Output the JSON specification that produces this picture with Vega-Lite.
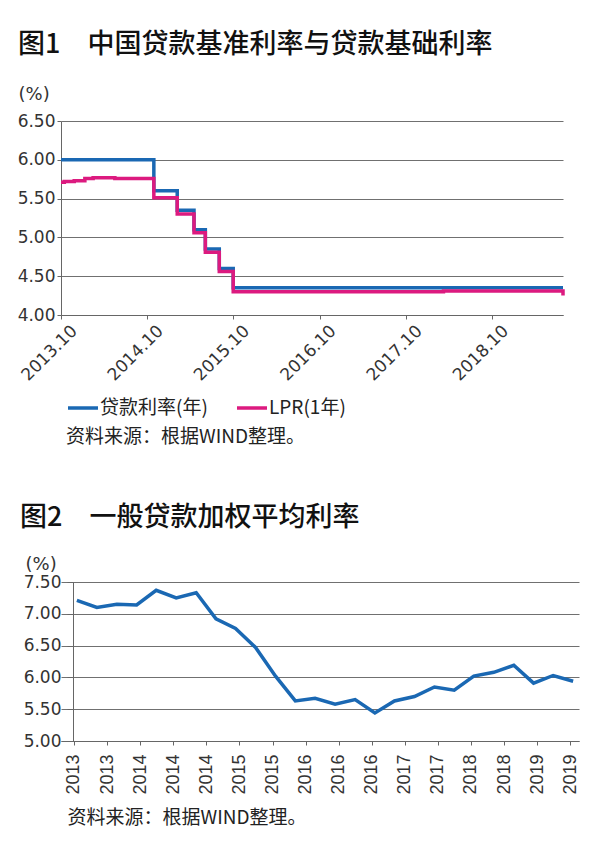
{
  "$schema": "https://vega.github.io/schema/vega-lite/v6.json",
  "background": "white",
  "padding": {"left": 17, "top": 31, "right": 0, "bottom": 0},
  "spacing": 120,
  "config": {
    "view": {"stroke": null},
    "axis": {
      "labelFont": "DejaVu Sans",
      "labelFontSize": 17,
      "labelColor": "#333333",
      "domainColor": "#666666",
      "tickColor": "#666666",
      "gridColor": "#707070",
      "gridWidth": 1,
      "titleFont": "DejaVu Sans",
      "titleFontWeight": "normal",
      "titleColor": "#333333"
    }
  },
  "vconcat": [
    {
      "width": 502,
      "height": 194,
      "title": {
        "text": "图1　中国贷款基准利率与贷款基础利率",
        "anchor": "start",
        "frame": "group",
        "dx": -43,
        "fontSize": 27,
        "font": "Noto Sans CJK SC",
        "fontWeight": 500,
        "color": "#111111",
        "offset": 26
      },
      "data": {
        "values": [
          {"date": "2013-10-25", "series": "贷款利率(年)", "rate": 6.00},
          {"date": "2014-11-22", "series": "贷款利率(年)", "rate": 5.60},
          {"date": "2015-03-01", "series": "贷款利率(年)", "rate": 5.35},
          {"date": "2015-05-11", "series": "贷款利率(年)", "rate": 5.10},
          {"date": "2015-06-28", "series": "贷款利率(年)", "rate": 4.85},
          {"date": "2015-08-26", "series": "贷款利率(年)", "rate": 4.60},
          {"date": "2015-10-24", "series": "贷款利率(年)", "rate": 4.35},
          {"date": "2019-08-20", "series": "贷款利率(年)", "rate": 4.35},
          {"date": "2013-10-25", "series": "LPR(1年)", "rate": 5.71},
          {"date": "2013-11-08", "series": "LPR(1年)", "rate": 5.72},
          {"date": "2013-12-20", "series": "LPR(1年)", "rate": 5.73},
          {"date": "2014-02-03", "series": "LPR(1年)", "rate": 5.76},
          {"date": "2014-03-10", "series": "LPR(1年)", "rate": 5.77},
          {"date": "2014-06-10", "series": "LPR(1年)", "rate": 5.76},
          {"date": "2014-11-22", "series": "LPR(1年)", "rate": 5.51},
          {"date": "2015-03-01", "series": "LPR(1年)", "rate": 5.30},
          {"date": "2015-05-11", "series": "LPR(1年)", "rate": 5.06},
          {"date": "2015-06-28", "series": "LPR(1年)", "rate": 4.81},
          {"date": "2015-08-26", "series": "LPR(1年)", "rate": 4.56},
          {"date": "2015-10-24", "series": "LPR(1年)", "rate": 4.30},
          {"date": "2018-04-01", "series": "LPR(1年)", "rate": 4.31},
          {"date": "2019-08-20", "series": "LPR(1年)", "rate": 4.25}
        ]
      },
      "mark": {"type": "line", "interpolate": "step-after", "strokeWidth": 3.5},
      "encoding": {
        "x": {
          "field": "date",
          "type": "temporal",
          "scale": {
            "type": "utc",
            "domain": [
              {"year": 2013, "month": 10, "date": 25, "utc": true},
              {"year": 2019, "month": 8, "date": 20, "utc": true}
            ]
          },
          "axis": {
            "values": [
              {"year": 2013, "month": 10, "date": 25, "utc": true},
              {"year": 2014, "month": 10, "date": 25, "utc": true},
              {"year": 2015, "month": 10, "date": 25, "utc": true},
              {"year": 2016, "month": 10, "date": 25, "utc": true},
              {"year": 2017, "month": 10, "date": 25, "utc": true},
              {"year": 2018, "month": 10, "date": 25, "utc": true}
            ],
            "format": "%Y.%m",
            "labelAngle": -45,
            "labelAlign": "right",
            "labelBaseline": "middle",
            "labelOffset": 13,
            "labelPadding": 9,
            "grid": false,
            "tickSize": 4,
            "title": null
          }
        },
        "y": {
          "field": "rate",
          "type": "quantitative",
          "scale": {"domain": [4, 6.5]},
          "axis": {
            "values": [4, 4.5, 5, 5.5, 6, 6.5],
            "format": ".2f",
            "tickSize": 4,
            "labelPadding": 2,
            "title": "(%)",
            "titleAngle": 0,
            "titleAlign": "left",
            "titleBaseline": "top",
            "titleX": -43,
            "titleY": -36,
            "titleFontSize": 18
          }
        },
        "color": {
          "field": "series",
          "type": "nominal",
          "scale": {"domain": ["贷款利率(年)", "LPR(1年)"], "range": ["#1a68b3", "#dc1a7f"]},
          "legend": {
            "orient": "none",
            "legendX": 5,
            "legendY": 270,
            "direction": "horizontal",
            "symbolType": "stroke",
            "symbolSize": 900,
            "symbolStrokeWidth": 3.5,
            "labelFont": "Noto Sans CJK SC",
            "labelFontSize": 19,
            "labelColor": "#222222",
            "labelOffset": 0,
            "columnPadding": 22,
            "title": "资料来源：根据WIND整理。",
            "titleOrient": "bottom",
            "titleAnchor": "start",
            "titleFont": "Noto Sans CJK SC",
            "titleFontSize": 19,
            "titleFontWeight": "normal",
            "titleColor": "#222222",
            "titlePadding": 10,
            "titleLimit": 400
          }
        }
      }
    },
    {
      "width": 518,
      "height": 159,
      "title": {
        "text": "图2　一般贷款加权平均利率",
        "anchor": "start",
        "frame": "group",
        "dx": -41,
        "fontSize": 27,
        "font": "Noto Sans CJK SC",
        "fontWeight": 500,
        "color": "#111111",
        "offset": 23
      },
      "data": {
        "values": [
          {"date": "2013-03-15", "rate": 7.21},
          {"date": "2013-06-15", "rate": 7.10},
          {"date": "2013-09-15", "rate": 7.15},
          {"date": "2013-12-15", "rate": 7.14},
          {"date": "2014-03-15", "rate": 7.37},
          {"date": "2014-06-15", "rate": 7.25},
          {"date": "2014-09-15", "rate": 7.33},
          {"date": "2014-12-15", "rate": 6.92},
          {"date": "2015-03-15", "rate": 6.77},
          {"date": "2015-06-15", "rate": 6.47},
          {"date": "2015-09-15", "rate": 6.02},
          {"date": "2015-12-15", "rate": 5.63},
          {"date": "2016-03-15", "rate": 5.67},
          {"date": "2016-06-15", "rate": 5.58},
          {"date": "2016-09-15", "rate": 5.65},
          {"date": "2016-12-15", "rate": 5.44},
          {"date": "2017-03-15", "rate": 5.63},
          {"date": "2017-06-15", "rate": 5.70},
          {"date": "2017-09-15", "rate": 5.85},
          {"date": "2017-12-15", "rate": 5.80},
          {"date": "2018-03-15", "rate": 6.02},
          {"date": "2018-06-15", "rate": 6.08},
          {"date": "2018-09-15", "rate": 6.19},
          {"date": "2018-12-15", "rate": 5.91},
          {"date": "2019-03-15", "rate": 6.03},
          {"date": "2019-06-15", "rate": 5.94}
        ]
      },
      "mark": {"type": "line", "strokeWidth": 3.5, "color": "#1a68b3"},
      "encoding": {
        "x": {
          "field": "date",
          "type": "temporal",
          "scale": {
            "type": "utc",
            "domain": [
              {"year": 2013, "month": 1, "date": 1, "utc": true},
              {"year": 2019, "month": 7, "date": 12, "utc": true}
            ]
          },
          "axis": {
            "values": [
              {"year": 2013, "month": 3, "date": 1, "utc": true},
              {"year": 2013, "month": 8, "date": 1, "utc": true},
              {"year": 2014, "month": 1, "date": 1, "utc": true},
              {"year": 2014, "month": 6, "date": 1, "utc": true},
              {"year": 2014, "month": 11, "date": 1, "utc": true},
              {"year": 2015, "month": 4, "date": 1, "utc": true},
              {"year": 2015, "month": 9, "date": 1, "utc": true},
              {"year": 2016, "month": 2, "date": 1, "utc": true},
              {"year": 2016, "month": 7, "date": 1, "utc": true},
              {"year": 2016, "month": 12, "date": 1, "utc": true},
              {"year": 2017, "month": 5, "date": 1, "utc": true},
              {"year": 2017, "month": 10, "date": 1, "utc": true},
              {"year": 2018, "month": 3, "date": 1, "utc": true},
              {"year": 2018, "month": 8, "date": 1, "utc": true},
              {"year": 2019, "month": 1, "date": 1, "utc": true},
              {"year": 2019, "month": 6, "date": 1, "utc": true}
            ],
            "format": "%Y",
            "labelAngle": -90,
            "labelAlign": "right",
            "labelBaseline": "middle",
            "labelPadding": 9,
            "labelFont": "Liberation Sans",
            "labelFontSize": 18,
            "grid": false,
            "tickSize": 4,
            "title": "资料来源：根据WIND整理。",
            "titleFont": "Noto Sans CJK SC",
            "titleFontSize": 19,
            "titleColor": "#222222",
            "titleAnchor": "start",
            "titleAlign": "left",
            "titleBaseline": "top",
            "titleX": 6,
            "titleY": 67
          }
        },
        "y": {
          "field": "rate",
          "type": "quantitative",
          "scale": {"domain": [5, 7.5]},
          "axis": {
            "values": [5, 5.5, 6, 6.5, 7, 7.5],
            "format": ".2f",
            "offset": -12,
            "tickSize": 6,
            "labelPadding": 6,
            "title": "(%)",
            "titleAngle": 0,
            "titleAlign": "left",
            "titleBaseline": "top",
            "titleX": -48,
            "titleY": -27,
            "titleFontSize": 18
          }
        }
      }
    }
  ]
}
